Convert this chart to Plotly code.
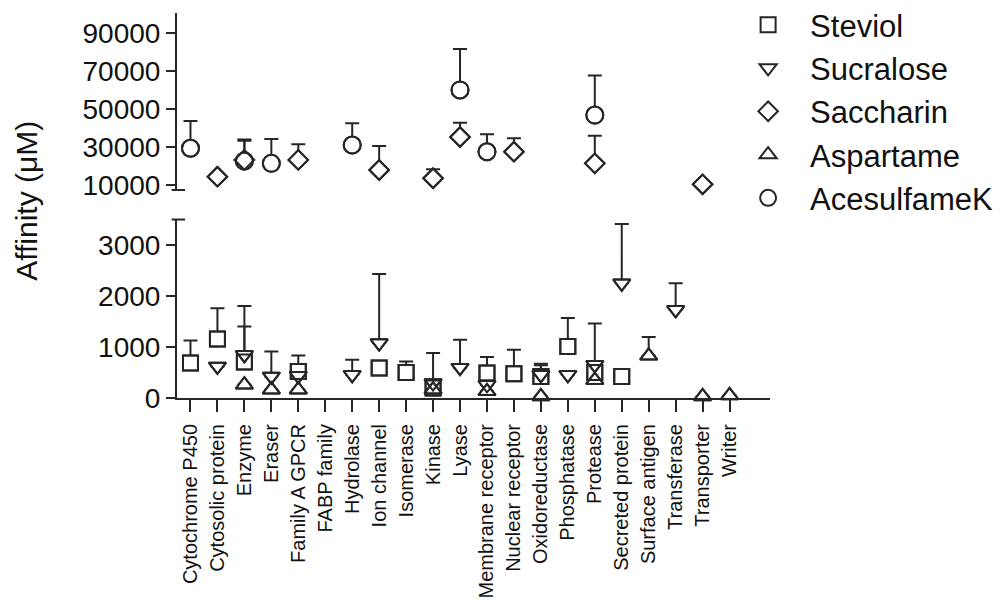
import plotly.graph_objects as go

categories = ["Cytochrome P450", "Cytosolic protein", "Enzyme", "Eraser", "Family A GPCR",
              "FABP family", "Hydrolase", "Ion channel", "Isomerase", "Kinase", "Lyase",
              "Membrane receptor", "Nuclear receptor", "Oxidoreductase", "Phosphatase",
              "Protease", "Secreted protein", "Surface antigen", "Transferase",
              "Transporter", "Writer"]

steviol = [685, 1155, 704, None, 521, None, None, 587, 501, 196, None, 489, 476, 423,
           1010, 500, 423, None, None, None, None]
steviol_err_top = [1127, 1761, 1400, None, 834, None, None, None, 716, None, None, 802,
                   945, 640, 1571, None, None, None, None, None, None]

sucralose = [None, 618, 847, 423, 436, None, 456, 1076, None, 293, 595, 260, None, 456,
             456, 650, 2250, None, 1728, None, None]
sucralose_err_top = [None, None, 1806, 912, None, None, 750, 2432, None, 880, 1141, None,
                     None, 670, None, 1460, 3411, None, 2250, None, None]

saccharin = [None, 14500, 23300, None, 23300, None, None, 18000, None, 13700, 35300, None,
             27600, None, None, 21500, None, None, None, 10500, None]
saccharin_err_top = [None, None, 33300, None, 31500, None, None, 30600, None, 18400, 42800,
                     None, 34600, None, None, 36000, None, None, None, None, None]

aspartame = [None, None, 260, 162, 162, None, None, None, None, 162, None, 130, None, 31,
             None, 350, None, 828, None, 31, 51]
aspartame_err_top = [None, None, None, None, None, None, None, None, None, None, None, None,
                     None, None, None, None, None, 1194, None, None, None]

acesulfame = [29400, None, 22700, 21500, None, None, 31100, None, None, None, 60000, 27600,
              None, None, None, 46800, None, None, None, None, None]
acesulfame_err_top = [43700, None, 34000, 34300, None, None, 42500, None, None, None, 81400,
                      36700, None, None, None, 67500, None, None, None, None, None]

top_ticks = [10000, 30000, 50000, 70000, 90000]
bottom_ticks = [0, 1000, 2000, 3000]

series = [
    ("Steviol", steviol, steviol_err_top, "square", 15),
    ("Sucralose", sucralose, sucralose_err_top, "triangle-down", 15),
    ("Saccharin", saccharin, saccharin_err_top, "diamond", 15),
    ("Aspartame", aspartame, aspartame_err_top, "triangle-up", 15),
    ("AcesulfameK", acesulfame, acesulfame_err_top, "circle", 17),
]

INK = "#262626"
FONT = "Arial, Liberation Sans, sans-serif"
BREAK = 5000  # values above go to the upper panel

fig = go.Figure()


def split(vals, tops, upper):
    xs, ys, es = [], [], []
    for c, v, t in zip(categories, vals, tops):
        if v is None:
            continue
        if (v > BREAK) != upper:
            continue
        xs.append(c)
        ys.append(v)
        es.append((t - v) if t is not None else None)
    return xs, ys, es


# layer 1: error bars + white-filled markers
for name, vals, tops, sym, size in series:
    for upper in (True, False):
        xs, ys, es = split(vals, tops, upper)
        if not xs:
            continue
        fig.add_trace(go.Scatter(
            x=xs, y=ys, mode="markers", name=name, showlegend=False,
            xaxis="x" if upper else "x2", yaxis="y" if upper else "y2",
            cliponaxis=False,
            marker=dict(symbol=sym, size=size, color="white",
                        line=dict(color=INK, width=2)),
            error_y=dict(type="data", symmetric=False, array=es,
                         arrayminus=[0] * len(es), color=INK, thickness=2, width=7),
        ))

# layer 2: outlines on top so overlapping markers all show
for name, vals, tops, sym, size in series:
    first = True
    for upper in (True, False):
        xs, ys, es = split(vals, tops, upper)
        if not xs:
            continue
        fig.add_trace(go.Scatter(
            x=xs, y=ys, mode="markers", name=name, showlegend=first,
            legendgroup=name,
            xaxis="x" if upper else "x2", yaxis="y" if upper else "y2",
            cliponaxis=False,
            marker=dict(symbol=sym + "-open", size=size, color=INK,
                        line=dict(color=INK, width=2)),
        ))
        first = False

xrange = [-0.5, 21.5]
axis_common = dict(showline=True, linecolor=INK, linewidth=2, ticks="outside",
                   tickcolor=INK, tickwidth=2, showgrid=False, zeroline=False,
                   tickfont=dict(family=FONT, size=28, color="#111"))

fig.update_layout(
    width=995, height=595,
    margin=dict(l=169, r=233, t=5, b=205, autoexpand=False),
    paper_bgcolor="white", plot_bgcolor="white",
    font=dict(family=FONT, color="#111"),
    xaxis=dict(domain=[0, 1], range=xrange, type="category", categoryorder="array",
               categoryarray=categories, anchor="y", showline=False, showticklabels=False,
               ticks="", showgrid=False, zeroline=False, matches="x2"),
    xaxis2=dict(domain=[0, 1], range=xrange, type="category", categoryorder="array",
                categoryarray=categories, anchor="y2", showline=True, linecolor=INK,
                linewidth=2, ticks="outside", ticklen=12, tickwidth=2, tickcolor=INK,
                ticklabelstandoff=4,
                tickangle=-90, showgrid=False, zeroline=False,
                tickfont=dict(family=FONT, size=20, color="#111")),
    yaxis=dict(domain=[0.5403, 1.0], range=[7536, 100320], tickmode="array",
               tickvals=top_ticks, ticktext=[str(t) for t in top_ticks], ticklen=9,
               anchor="x", **axis_common),
    yaxis2=dict(domain=[0, 0.4636], range=[0, 3500], tickmode="array",
                tickvals=bottom_ticks, ticktext=[str(t) for t in bottom_ticks], ticklen=9,
                anchor="x2", **axis_common),
    legend=dict(x=0.926, y=1.039, xanchor="left", yanchor="top", itemwidth=74,
                font=dict(family=FONT, size=31, color="#111"), bgcolor="rgba(0,0,0,0)",
                tracegroupgap=0),
    annotations=[dict(text="Affinity (μM)", textangle=-90, xref="paper", yref="paper",
                      x=-0.253, y=0.512, xanchor="center", yanchor="middle",
                      showarrow=False,
                      font=dict(family=FONT, size=30, color="#111"))],
    shapes=[
        dict(type="line", xref="x domain", yref="y domain", x0=-0.009, x1=0.0135,
             y0=0, y1=0, line=dict(color=INK, width=2)),
        dict(type="line", xref="x2 domain", yref="y2 domain", x0=-0.009, x1=0.0135,
             y0=1, y1=1, line=dict(color=INK, width=2)),
    ],
)

fig.write_html("out.html")
